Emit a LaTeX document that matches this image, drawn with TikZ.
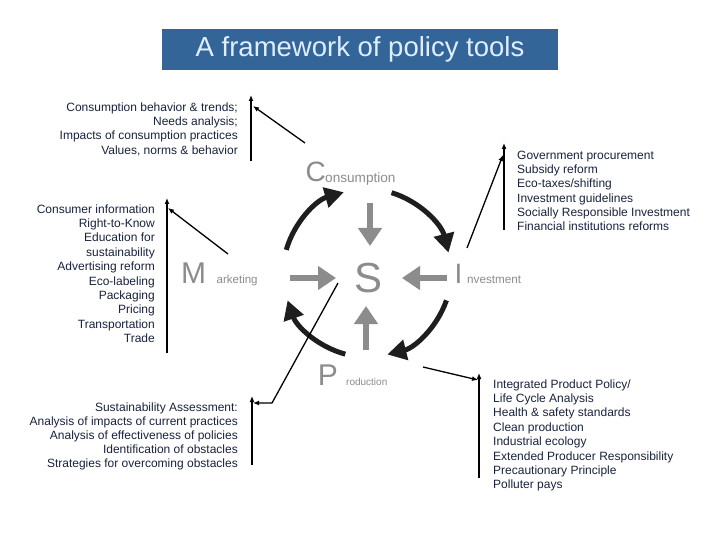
\documentclass[tikz,border=0pt]{standalone}
\usepackage{fontspec}
\setmainfont{Liberation Sans}
\usetikzlibrary{arrows.meta}
\definecolor{titlebg}{RGB}{52,101,152}
\definecolor{titlefg}{RGB}{222,238,255}
\definecolor{txt}{RGB}{25,35,60}
\definecolor{lightg}{RGB}{140,140,140}
\definecolor{darkarc}{RGB}{30,30,30}
\tikzset{
  block/.style={inner sep=0pt, text=txt, font=\fontsize{12}{14.4}\selectfont},
  bigletter/.style={inner sep=0pt, anchor=base west, text=lightg},
  smallword/.style={inner sep=0pt, anchor=base west, text=lightg},
  toS/.style={draw=lightg, line width=6pt, -{Triangle[length=18pt,width=23pt]}},
  cyclearc/.style={draw=darkarc, line width=5pt, -{Triangle[length=19pt,width=20pt]}},
  thin/.style={draw=black, line width=1.3pt, -{Latex[length=6pt,width=5pt]}},
}
\begin{document}
\begin{tikzpicture}[x=1pt,y=-1pt]
\useasboundingbox[fill=white] (0,0) rectangle (720,540);
% title
\node[fill=titlebg, text=titlefg, minimum width=396pt, minimum height=41pt, inner sep=0pt,
  font=\fontsize{27.5}{30}\selectfont] (title) at (360,49.5) {A framework of policy tools};

% centre letters
\node[inner sep=0pt, anchor=base, text=lightg, font=\fontsize{42}{44}\selectfont] (S) at (369,292) {S};
\node[bigletter, font=\fontsize{28}{30}\selectfont] (C) at (305.5,182) {C};
\node[smallword, font=\fontsize{13.6}{15}\selectfont] (Cw) at (325,183) {onsumption};
\node[bigletter, font=\fontsize{30}{32}\selectfont] (M) at (181,283) {M};
\node[smallword, font=\fontsize{11.5}{13}\selectfont] (Mw) at (216.5,283) {arketing};
\node[bigletter, font=\fontsize{28}{30}\selectfont] (I) at (454.5,283) {I};
\node[smallword, font=\fontsize{11.7}{13}\selectfont] (Iw) at (467,283) {nvestment};
\node[bigletter, font=\fontsize{30}{32}\selectfont] (P) at (317.6,385) {P};
\node[smallword, font=\fontsize{10}{11}\selectfont] (Pw) at (346,385) {roduction};

% grey arrows towards S
\coordinate (cS1) at (370,203); \coordinate (cS2) at (370,246);
\coordinate (mS1) at (290,278); \coordinate (mS2) at (336,278);
\coordinate (iS1) at (447,278); \coordinate (iS2) at (402,278);
\coordinate (pS1) at (366,350); \coordinate (pS2) at (366,306);
\draw[toS] (cS1) -- (cS2);
\draw[toS] (mS1) -- (mS2);
\draw[toS] (iS1) -- (iS2);
\draw[toS] (pS1) -- (pS2);

% cycle arcs (clockwise on page)
\coordinate (ctr) at (367,273);
\draw[cyclearc] ([shift={(-164:84)}]ctr) arc[start angle=-164, end angle=-106, radius=84];
\draw[cyclearc] ([shift={(-73:84)}]ctr) arc[start angle=-73, end angle=-14, radius=84];
\draw[cyclearc] ([shift={(19:84)}]ctr) arc[start angle=19, end angle=76, radius=84];
\draw[cyclearc] ([shift={(105:84)}]ctr) arc[start angle=105, end angle=161, radius=84];

% text blocks
\node[block, align=right, anchor=north east] (b1) at (238,102.3) {Consumption behavior \& trends;\\Needs analysis;\\Impacts of consumption practices\\Values, norms \& behavior};
\node[block, align=right, anchor=north east] (b2) at (155,204.3) {Consumer information\\Right-to-Know\\Education for\\sustainability\\Advertising reform\\Eco-labeling\\Packaging\\Pricing\\Transportation\\Trade};
\node[block, align=right, anchor=north east, font=\fontsize{12}{14.1}\selectfont] (b3) at (238,402.3) {Sustainability Assessment:\\Analysis of impacts of current practices\\Analysis of effectiveness of policies\\Identification of obstacles\\Strategies for overcoming obstacles};
\node[block, align=left, anchor=north west, font=\fontsize{12}{14.3}\selectfont] (b4) at (517,150.8) {Government procurement\\Subsidy reform\\Eco-taxes/shifting\\Investment guidelines\\Socially Responsible Investment\\Financial institutions reforms};
\node[block, align=left, anchor=north west] (b5) at (493,379.3) {Integrated Product Policy/\\Life Cycle Analysis\\Health \& safety standards\\Clean production\\Industrial ecology\\Extended Producer Responsibility\\Precautionary Principle\\Polluter pays};

% vertical bars with arrows
\coordinate (v1a) at (251,161); \coordinate (v1b) at (251,95);
\coordinate (v2a) at (167,353); \coordinate (v2b) at (167,198);
\coordinate (v3a) at (252,465); \coordinate (v3b) at (252,396);
\coordinate (v4a) at (504,230); \coordinate (v4b) at (504,143);
\coordinate (v5a) at (479,478); \coordinate (v5b) at (479,373);
\draw[thin] (v1a) -- (v1b);
\draw[thin] (v2a) -- (v2b);
\draw[thin] (v3a) -- (v3b);
\draw[thin] (v4a) -- (v4b);
\draw[thin] (v5a) -- (v5b);

% diagonal pointers
\coordinate (d1a) at (305,143); \coordinate (d1b) at (253,106);
\coordinate (d2a) at (228,254); \coordinate (d2b) at (168,208);
\coordinate (d3a) at (338,283); \coordinate (d3k) at (272,403); \coordinate (d3b) at (253,403);
\coordinate (d4a) at (467,248); \coordinate (d4b) at (503,155);
\coordinate (d5a) at (423,367); \coordinate (d5b) at (478,380);
\draw[thin] (d1a) -- (d1b);
\draw[thin] (d2a) -- (d2b);
\draw[thin] (d3a) -- (d3k) -- (d3b);
\draw[thin] (d4a) -- (d4b);
\draw[thin] (d5a) -- (d5b);
\end{tikzpicture}
\end{document}
